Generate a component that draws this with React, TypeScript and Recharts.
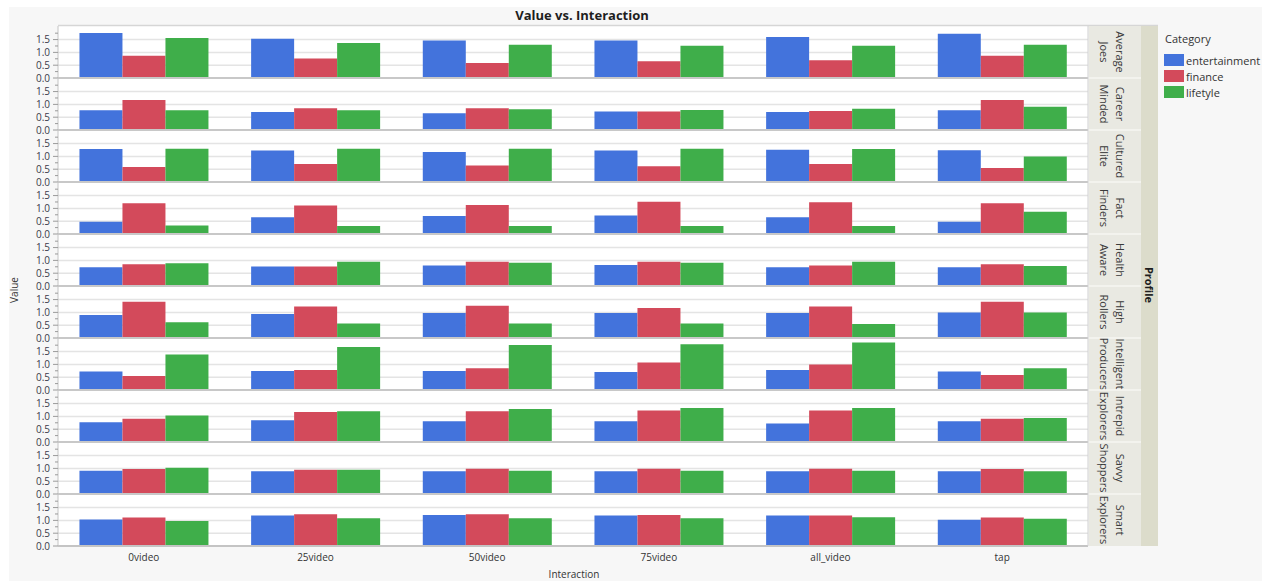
import React from 'react';
import { BarChart, Bar, XAxis, YAxis, CartesianGrid, ReferenceLine } from 'recharts';

const categories = ['0video', '25video', '50video', '75video', 'all_video', 'tap'];
const profiles = [
  'Average Joes', 'Career Minded', 'Cultured Elite', 'Fact Finders', 'Health Aware',
  'High Rollers', 'Intelligent Producers', 'Intrepid Explorers', 'Savvy Shoppers', 'Smart Explorers',
];
const seriesNames = ['entertainment', 'finance', 'lifetyle'];
const seriesColors = ['#4373DC', '#D34A5B', '#3FAE4A'];

const entertainment = [
  [1.76, 1.53, 1.46, 1.46, 1.60, 1.73],
  [0.77, 0.70, 0.65, 0.72, 0.70, 0.77],
  [1.29, 1.23, 1.17, 1.23, 1.26, 1.24],
  [0.48, 0.65, 0.70, 0.72, 0.65, 0.48],
  [0.73, 0.76, 0.80, 0.82, 0.73, 0.73],
  [0.90, 0.94, 0.98, 0.98, 0.98, 1.00],
  [0.72, 0.74, 0.74, 0.70, 0.78, 0.72],
  [0.77, 0.85, 0.81, 0.81, 0.72, 0.81],
  [0.91, 0.89, 0.89, 0.89, 0.89, 0.89],
  [1.03, 1.19, 1.21, 1.19, 1.19, 1.02],
];
const finance = [
  [0.87, 0.76, 0.59, 0.65, 0.69, 0.87],
  [1.17, 0.85, 0.85, 0.72, 0.74, 1.17],
  [0.59, 0.70, 0.64, 0.61, 0.70, 0.55],
  [1.20, 1.11, 1.13, 1.26, 1.24, 1.20],
  [0.85, 0.76, 0.95, 0.95, 0.80, 0.85],
  [1.42, 1.23, 1.26, 1.17, 1.23, 1.42],
  [0.55, 0.78, 0.85, 1.07, 1.00, 0.59],
  [0.91, 1.17, 1.20, 1.23, 1.23, 0.91],
  [0.98, 0.95, 0.99, 0.99, 0.99, 0.98],
  [1.11, 1.24, 1.24, 1.21, 1.19, 1.11],
];
const lifetyle = [
  [1.56, 1.37, 1.30, 1.26, 1.26, 1.30],
  [0.77, 0.77, 0.81, 0.78, 0.83, 0.91],
  [1.30, 1.30, 1.30, 1.30, 1.29, 1.00],
  [0.33, 0.31, 0.31, 0.31, 0.31, 0.87],
  [0.89, 0.95, 0.91, 0.91, 0.95, 0.78],
  [0.61, 0.57, 0.57, 0.57, 0.55, 1.00],
  [1.39, 1.68, 1.76, 1.79, 1.85, 0.85],
  [1.03, 1.20, 1.29, 1.33, 1.33, 0.94],
  [1.02, 0.95, 0.91, 0.91, 0.91, 0.89],
  [0.98, 1.08, 1.08, 1.08, 1.12, 1.06],
];
const yTicks = [0, 0.25, 0.5, 0.75, 1.0, 1.25, 1.5, 1.75];
const majorTicks = [0.5, 1.0, 1.5];

const FONT = '"Open Sans", "Noto Sans", sans-serif';
const PANEL_TOP = 26;
const PANEL_H = 52;
const AXIS_W = 58;
const PLOT_RIGHT = 1088;
const OVERHANG = 7;

function YTick(props: any) {
  const { y, payload } = props;
  const v = payload.value as number;
  const major = Math.abs(v * 2 - Math.round(v * 2)) < 1e-6;
  return (
    <g>
      <line x1={AXIS_W - (major ? 5 : 3)} x2={AXIS_W} y1={y} y2={y} stroke="#9a9a9a" strokeWidth={1} />
      {major && (
        <text x={AXIS_W - 8} y={y} dy={3.5} textAnchor="end" fontSize={10} fill="#3a3a4a" fontFamily={FONT}>
          {v.toFixed(1)}
        </text>
      )}
    </g>
  );
}

function Panel({ index }: { index: number }) {
  const last = index === profiles.length - 1;
  const data = categories.map((c, j) => ({
    interaction: c,
    entertainment: entertainment[index][j],
    finance: finance[index][j],
    lifetyle: lifetyle[index][j],
  }));
  return (
    <div style={{ position: 'absolute', left: 0, top: PANEL_TOP + PANEL_H * index }}>
      <BarChart
        width={PLOT_RIGHT}
        height={PANEL_H + (last ? 22 : OVERHANG)}
        data={data}
        margin={{ top: 0, right: 0, bottom: last ? 0 : OVERHANG, left: 0 }}
        barCategoryGap="12.5%"
        barGap={0}
      >
        <CartesianGrid vertical={false} horizontalValues={majorTicks} stroke="#e4e4e4" strokeWidth={1.5} />
        <XAxis
          dataKey="interaction"
          hide={!last}
          height={22}
          tickLine={false}
          axisLine={{ stroke: '#c4c4c4', strokeWidth: 2 }}
          tick={{ fontSize: 10, fill: '#333', fontFamily: FONT }}
          interval={0}
        />
        <YAxis
          width={AXIS_W}
          domain={[0, 2.03]}
          ticks={yTicks}
          interval={0}
          tickLine={false}
          axisLine={{ stroke: '#c4c4c4' }}
          tick={<YTick />}
        />
        <ReferenceLine y={0} stroke="#c8c8c8" strokeWidth={2} />
        {seriesNames.map((s, k) => (
          <Bar key={s} dataKey={s} fill={seriesColors[k]} isAnimationActive={false} />
        ))}
      </BarChart>
    </div>
  );
}

export default function App() {
  const plotBottom = PANEL_TOP + PANEL_H * profiles.length;
  return (
    <div style={{ position: 'absolute', left: 0, top: 0, width: 1262, height: 581, background: '#ffffff', fontFamily: FONT, overflow: 'hidden' }}>
      <svg width={1262} height={581} style={{ position: 'absolute', left: 0, top: 0 }}>
        <rect x={9} y={7} width={1253} height={574} fill="#f7f7f7" />
        <rect x={AXIS_W} y={PANEL_TOP} width={PLOT_RIGHT - AXIS_W} height={plotBottom - PANEL_TOP} fill="#ffffff" />
        <line x1={AXIS_W} x2={1158} y1={PANEL_TOP - 0.5} y2={PANEL_TOP - 0.5} stroke="#d6d6d6" strokeWidth={1.5} />
        <text x={582} y={20} textAnchor="middle" fontSize={13} fontWeight="bold" fill="#1e1e1e" fontFamily={FONT}>
          Value vs. Interaction
        </text>
      </svg>
      {profiles.map((p, i) => (
        <Panel key={p} index={i} />
      ))}
      <svg width={1262} height={581} style={{ position: 'absolute', left: 0, top: 0, pointerEvents: 'none' }}>
        <defs>
          {profiles.map((p, i) => (
            <clipPath id={`strip${i}`} key={p}>
              <rect x={1090} y={PANEL_TOP + PANEL_H * i} width={51} height={PANEL_H} />
            </clipPath>
          ))}
        </defs>
        <line x1={PLOT_RIGHT} x2={PLOT_RIGHT} y1={PANEL_TOP} y2={plotBottom} stroke="#d0d0d0" strokeWidth={1} />
        <rect x={1089} y={PANEL_TOP} width={52} height={plotBottom - PANEL_TOP} fill="#e9e9e2" />
        <rect x={1141} y={PANEL_TOP} width={17} height={plotBottom - PANEL_TOP} fill="#dcdccb" />
        {profiles.map((p, i) => {
          const top = PANEL_TOP + PANEL_H * i;
          const cy = top + PANEL_H / 2;
          const words = p.split(' ');
          const first = words[0];
          const rest = words.slice(1).join(' ');
          return (
            <g key={p}>
              {i > 0 && <line x1={1089} x2={1141} y1={top} y2={top} stroke="#f6f6f2" strokeWidth={1.5} />}
              <g clipPath={`url(#strip${i})`}>
                <text transform={`translate(1120,${cy}) rotate(90)`} textAnchor="middle" dominantBaseline="central" fontSize={11} fill="#3a3a3a" fontFamily={FONT}>
                  {first}
                </text>
                <text transform={`translate(1104,${cy}) rotate(90)`} textAnchor="middle" dominantBaseline="central" fontSize={11} fill="#3a3a3a" fontFamily={FONT}>
                  {rest}
                </text>
              </g>
            </g>
          );
        })}
        <text transform={`translate(1149,285) rotate(90)`} textAnchor="middle" dominantBaseline="central" fontSize={11} fontWeight="bold" fill="#1e1e1e" fontFamily={FONT}>
          Profile
        </text>
        <text transform="translate(14,290) rotate(-90)" textAnchor="middle" dominantBaseline="central" fontSize={10} fill="#333" fontFamily={FONT}>
          Value
        </text>
        <text x={574} y={578} textAnchor="middle" fontSize={10} fill="#333" fontFamily={FONT}>
          Interaction
        </text>
        <text x={1165} y={43} fontSize={11} fill="#333" fontFamily={FONT}>
          Category
        </text>
        {seriesNames.map((s, k) => (
          <g key={s}>
            <rect x={1164} y={54 + k * 16} width={20} height={12} fill={seriesColors[k]} />
            <text x={1186} y={60 + k * 16} dominantBaseline="central" fontSize={11} fill="#333" fontFamily={FONT}>
              {s}
            </text>
          </g>
        ))}
      </svg>
    </div>
  );
}
